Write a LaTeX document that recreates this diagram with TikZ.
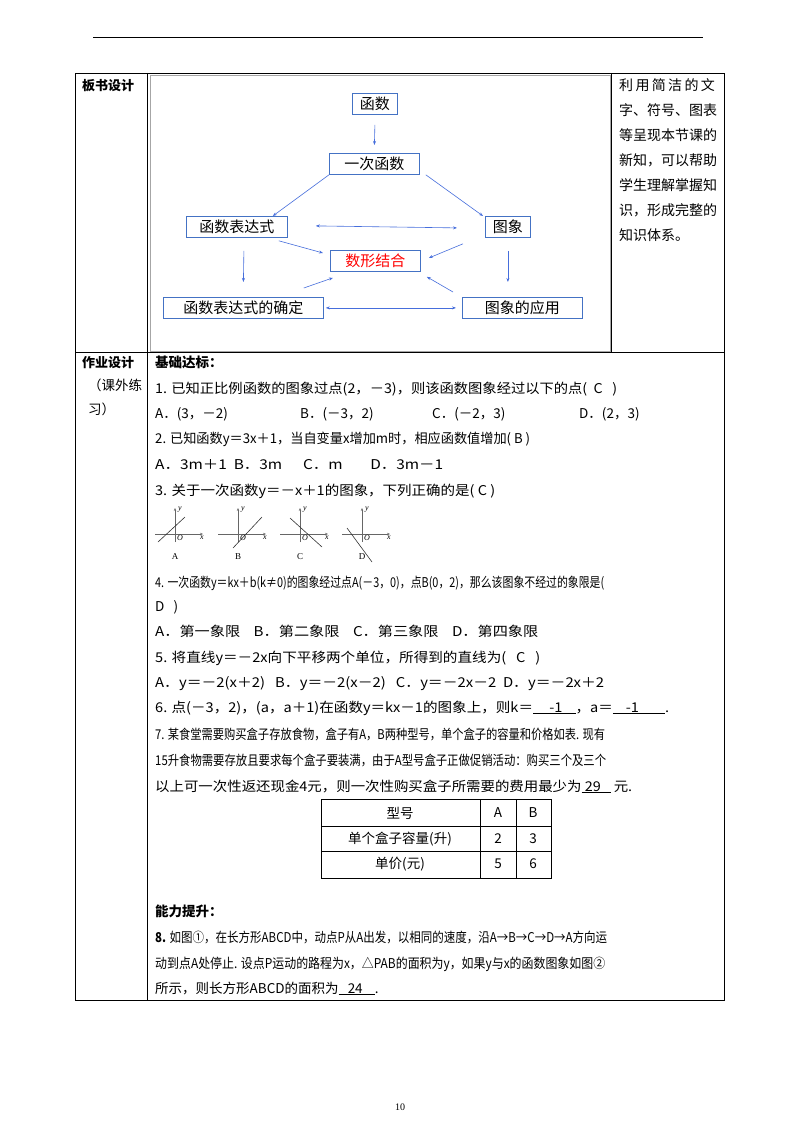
\documentclass[tikz,border=0pt]{standalone}
\usepackage{fontspec}
\setmainfont{Noto Sans CJK SC}
\newfontfamily\tms{Liberation Serif}
\usetikzlibrary{arrows.meta}
\definecolor{bx}{RGB}{68,114,196}
\definecolor{ar}{RGB}{70,110,220}
\newcommand{\fitw}[2]{\resizebox{#1pt}{\height}{#2}}
\begin{document}
\begin{tikzpicture}[x=1pt,y=-1pt,
  box/.style={draw=bx,line width=0.8pt,inner sep=1.5pt,font=\fontsize{15}{15}\selectfont,minimum height=21pt,anchor=north west},
  arr/.style={draw=ar,line width=0.6pt,-{Stealth[length=4pt,width=3pt]}},
  darr/.style={draw=ar,line width=0.6pt,{Stealth[length=4pt,width=3pt]}-{Stealth[length=4pt,width=3pt]}},
  tl/.style={anchor=base west,inner sep=0pt,font=\fontsize{13.5}{13}\selectfont},
  rt/.style={anchor=base west,inner sep=0pt,font=\fontsize{14}{13}\selectfont},
  ax/.style={line width=0.5pt,-{Stealth[length=3pt,width=2.4pt]}},
  glabel/.style={font=\tms\itshape\fontsize{8}{8}\selectfont,inner sep=0pt}]
\useasboundingbox (0,0) rectangle (800,1132);
\fill[white] (0,0) rectangle (800,1132);
% header rule
\draw[line width=0.7pt] (93,37) -- (703,37);
% table
\draw[line width=0.6pt] (75,73) rectangle (724,1000);
\draw[line width=0.6pt] (75,352) -- (724,352);
\draw[line width=0.6pt] (147,73) -- (147,1000);
\draw[line width=0.6pt] (611,73) -- (611,352);
\node[tl,font=\bfseries\fontsize{13}{13}\selectfont] (l1) at (82,90) {板书设计};
\node[tl,font=\bfseries\fontsize{13}{13}\selectfont] (l2) at (82,367) {作业设计};
\node[tl] (l3) at (88,390) {（课外练};
\node[tl] (l4) at (88,414) {习）};
% right column
\foreach \t [count=\i] in {利\,用\,简\,洁\,的\,文, 字、符号、图表, 等呈现本节课的, 新知，可以帮助, 学生理解掌握知, 识，形成完整的, 知识体系。}
  \node[rt] (r\i) at (619,90+25*\i-25) {\t};
% diagram frame
\draw[gray!70,line width=0.5pt] (150,75) rectangle (610,351);
\node[box,minimum width=45pt] (hs) at (352,93) {函数};
\node[box,minimum width=90pt] (yc) at (329,153) {一次函数};
\node[box,minimum width=101pt] (bd) at (186,216) {函数表达式};
\node[box,minimum width=45pt] (tx) at (485,216) {图象};
\node[box,minimum width=90pt,text=red] (sx) at (330,250) {数形结合};
\node[box,minimum width=160pt] (qd) at (163,297) {函数表达式的确定};
\node[box,minimum width=120pt] (yy) at (462,297) {图象的应用};
\draw[arr] ([yshift=-10pt]hs.south) -- ([yshift=8pt]yc.north);
\draw[arr] (yc.south west) -- ([xshift=-15pt]bd.north east);
\draw[arr] ([xshift=6pt]yc.south east) -- ([xshift=-2pt]tx.north west);
\draw[darr] ([xshift=28pt,yshift=1pt]bd.east) -- ([xshift=-28pt,yshift=-1pt]tx.west);
\draw[arr] ([xshift=-9pt,yshift=-3pt]bd.south east) -- ([xshift=-7pt,yshift=-3pt]sx.north west);
\draw[arr] ([xshift=-22pt,yshift=-6pt]tx.south west) -- ([xshift=8pt,yshift=-8pt]sx.north east);
\draw[arr] ([xshift=7pt,yshift=-13pt]bd.south) -- ([yshift=15pt]qd.north);
\draw[arr] ([yshift=-13pt]tx.south) -- ([xshift=-14.5pt,yshift=15pt]yy.north);
\draw[arr] ([xshift=-20pt,yshift=9pt]qd.north east) -- ([xshift=3pt,yshift=-6pt]sx.south west);
\draw[arr] ([xshift=-9pt,yshift=5pt]yy.north west) -- ([xshift=6pt,yshift=-5pt]sx.south east);
\draw[darr] ([xshift=2pt]qd.east) -- ([xshift=-6pt]yy.west);
% homework
\node[tl,font=\bfseries\fontsize{13.5}{13}\selectfont] (h0) at (155,367) {基础达标：};
\node[tl] (h1) at (155,393) {\fitw{462}{1. 已知正比例函数的图象过点(2，－3)，则该函数图象经过以下的点(\ \ C\ \ \ )}};
\node[tl] (h1a) at (155,418) {A．(3，－2)};
\node[tl] (h1b) at (300,418) {B．(－3，2)};
\node[tl] (h1c) at (432,418) {C．(－2，3)};
\node[tl] (h1d) at (579,418) {D．(2，3)};
\node[tl] (h2) at (155,443) {\fitw{375}{2. 已知函数y＝3x＋1，当自变量x增加m时，相应函数值增加(\ B\ )}};
\node[tl] (h2a) at (155,469) {\fitw{288}{A．3m＋1\ \ B．3m\ \ \ \ \ \ C．m\ \ \ \ \ \ \ \ D．3m－1}};
\node[tl] (h3) at (155,495) {\fitw{340}{3. 关于一次函数y＝－x＋1的图象，下列正确的是(\ C\ )}};
% small graphs
\foreach \ox/\oy/\ax/\ay/\bx/\by/\lab [count=\k] in
  {175/534/158/542/185/517/A, 238/534/233/548/262/517/B, 300/534/290/518/322/547/C, 362/534/347/528/372/562/D}{
  \coordinate (g\k) at (\ox,\oy);
  \draw[ax,gray!80!black] ([xshift=-20pt]g\k) -- ([xshift=28pt]g\k);
  \draw[ax,gray!80!black] ([yshift=-8pt]g\k) -- ([yshift=26pt]g\k);
  \draw[line width=0.6pt,black!80] (\ax,\ay) -- (\bx,\by);
  \node[glabel] (go\k) at ([xshift=5pt,yshift=-4pt]g\k) {O};
  \node[glabel] (gx\k) at ([xshift=27pt,yshift=-4pt]g\k) {x};
  \node[glabel] (gy\k) at ([xshift=5pt,yshift=24pt]g\k) {y};
  \node[inner sep=0pt,font=\tms\fontsize{9}{9}\selectfont] (gl\k) at ([yshift=-23pt]g\k) {\lab};
}
\node[tl] (h4) at (155,587) {\fitw{449}{4. 一次函数y＝kx＋b(k≠0)的图象经过点A(－3，0)，点B(0，2)，那么该图象不经过的象限是(}};
\node[tl] (h4b) at (155,611) {D\ \ \ )};
\node[tl] (h4a) at (155,636) {\fitw{383}{A．第一象限\ \ \ \ B．第二象限\ \ \ \ C．第三象限\ \ \ \ D．第四象限}};
\node[tl] (h5) at (155,662) {\fitw{385}{5. 将直线y＝－2x向下平移两个单位，所得到的直线为(\ \ \ C\ \ \ )}};
\node[tl] (h5a) at (155,687) {\fitw{449}{A．y＝－2(x＋2)\ \ \ B．y＝－2(x－2)\ \ \ C．y＝－2x－2\ \ D．y＝－2x＋2}};
\node[tl] (h6) at (155,712) {\fitw{514}{6. 点(－3，2)，(a，a＋1)在函数y＝kx－1的图象上，则k＝\underline{\ \ \ \ \ -1\ \ \ \ }，a＝\underline{\ \ \ \ -1\ \ \ \ \ \ \ \ }.}};
\node[tl] (h7) at (155,739) {\fitw{450}{7. 某食堂需要购买盒子存放食物，盒子有A，B两种型号，单个盒子的容量和价格如表. 现有}};
\node[tl] (h7b) at (155,765) {\fitw{451}{15升食物需要存放且要求每个盒子要装满，由于A型号盒子正做促销活动：购买三个及三个}};
\node[tl] (h7c) at (155,791) {\fitw{477}{以上可一次性返还现金4元，则一次性购买盒子所需要的费用最少为\underline{\ 29\ \ \ }\ 元.}};
% small table
\draw[line width=0.5pt] (321,799) rectangle (551,878);
\draw[line width=0.5pt] (321,826) -- (551,826) (321,851) -- (551,851) (480,799) -- (480,878) (516,799) -- (516,878);
\node[tl,anchor=center] (t11) at (400,813) {型号};
\node[tl,anchor=center] (t12) at (498,813) {A};
\node[tl,anchor=center] (t13) at (533,813) {B};
\node[tl,anchor=center] (t21) at (400,839) {单个盒子容量(升)};
\node[tl,anchor=center] (t22) at (498,839) {2};
\node[tl,anchor=center] (t23) at (533,839) {3};
\node[tl,anchor=center] (t31) at (400,864) {单价(元)};
\node[tl,anchor=center] (t32) at (498,864) {5};
\node[tl,anchor=center] (t33) at (533,864) {6};
\node[tl,font=\bfseries\fontsize{13.5}{13}\selectfont] (n0) at (155,916) {能力提升：};
\node[tl] (n1) at (155,942) {\fitw{452}{\textbf{8.} 如图①，在长方形ABCD中，动点P从A出发，以相同的速度，沿A→B→C→D→A方向运}};
\node[tl] (n2) at (155,968) {\fitw{450}{动到点A处停止. 设点P运动的路程为x，△PAB的面积为y，如果y与x的函数图象如图②}};
\node[tl] (n3) at (155,993) {所示，则长方形ABCD的面积为\underline{\ \ \ 24\ \ \ \ }.};
\node[inner sep=0pt,font=\tms\fontsize{10}{10}\selectfont] (pg) at (400,1107) {10};
\end{tikzpicture}
\end{document}
